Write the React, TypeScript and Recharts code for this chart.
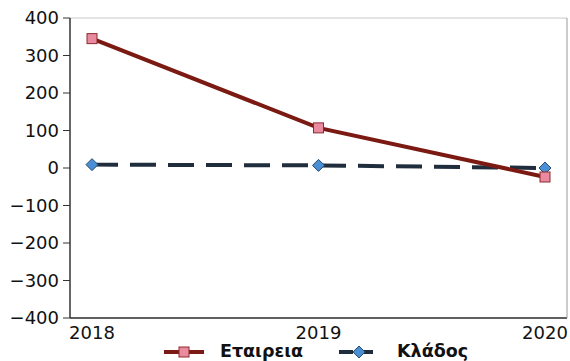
import React from 'react';
import { LineChart, Line, XAxis, YAxis, CartesianGrid, Legend } from 'recharts';

const years = ['2018', '2019', '2020'];
const company = [345, 107, -24];
const sector = [9, 7, 0];
const yTicks = [-400, -300, -200, -100, 0, 100, 200, 300, 400];

const data = years.map((year, i) => ({ year, company: company[i], sector: sector[i] }));

const FONT = '"DejaVu Sans", Verdana, sans-serif';

const fmt = (v: number) => String(v).replace('-', '\u2212');

const SquareDot = (props: any) => {
  const { cx, cy } = props;
  if (cx == null || cy == null) return null;
  return <rect x={cx - 5} y={cy - 5} width={10} height={10} fill="#EA8AA0" stroke="#8B2A2A" strokeWidth={1} />;
};

const DiamondDot = (props: any) => {
  const { cx, cy } = props;
  if (cx == null || cy == null) return null;
  return (
    <polygon
      points={`${cx},${cy - 6} ${cx + 6},${cy} ${cx},${cy + 6} ${cx - 6},${cy}`}
      fill="#4A8FD6"
      stroke="#2A4A6A"
      strokeWidth={1}
    />
  );
};

const LegendContent = () => (
  <div style={{ display: 'flex', justifyContent: 'center', alignItems: 'center', fontFamily: FONT, fontWeight: 'bold', fontSize: 17.5, color: '#111', paddingLeft: 62, lineHeight: '19px' }}>
    <svg width={40} height={12} style={{ marginRight: 16 }}>
      <line x1={0} y1={6} x2={40} y2={6} stroke="#7B1A12" strokeWidth={4} />
      <rect x={15} y={1} width={10} height={10} fill="#EA8AA0" stroke="#8B2A2A" strokeWidth={1} />
    </svg>
    <span style={{ marginRight: 36 }}>Εταιρεια</span>
    <svg width={40} height={12} style={{ marginRight: 18 }}>
      <line x1={0} y1={6} x2={40} y2={6} stroke="#1F2D3D" strokeWidth={4} strokeDasharray="14 6" />
      <polygon points="20,0 26,6 20,12 14,6" fill="#4A8FD6" stroke="#2A4A6A" strokeWidth={1} />
    </svg>
    <span>Κλάδος</span>
  </div>
);

export default function App() {
  return (
    <div style={{ position: 'absolute', left: 0, top: 0, width: 570, height: 361, background: '#fff' }}>
      <LineChart width={570} height={361} data={data} margin={{ top: 18, right: 0, left: 0, bottom: 0 }}>
        <CartesianGrid vertical={false} stroke="#C8C8C8" strokeWidth={1} />
        <XAxis
          dataKey="year"
          padding={{ left: 22, right: 22 }}
          height={24}
          axisLine={{ stroke: '#333', strokeWidth: 1.5 }}
          tickLine={false}
          tickMargin={2}
          tick={{ fontFamily: FONT, fontSize: 18, fill: '#111' }}
        />
        <YAxis
          yAxisId="l"
          domain={[-400, 400]}
          ticks={yTicks}
          width={70}
          interval={0}
          tickFormatter={fmt}
          axisLine={{ stroke: '#333', strokeWidth: 1.5 }}
          tickLine={{ stroke: '#333' }}
          tickSize={7}
          tickMargin={4}
          tick={{ fontFamily: FONT, fontSize: 18, fill: '#111' }}
        />
        <YAxis yAxisId="r" orientation="right" width={3} tick={false} tickLine={false} axisLine={{ stroke: '#999' }} domain={[-400, 400]} />
        <Legend verticalAlign="bottom" height={19} content={<LegendContent />} />
        <Line
          yAxisId="l"
          dataKey="sector"
          stroke="#1F2D3D"
          strokeWidth={4}
          strokeDasharray="26 12"
          dot={<DiamondDot />}
          isAnimationActive={false}
        />
        <Line
          yAxisId="l"
          dataKey="company"
          stroke="#7B1A12"
          strokeWidth={4}
          dot={<SquareDot />}
          isAnimationActive={false}
        />
      </LineChart>
    </div>
  );
}
